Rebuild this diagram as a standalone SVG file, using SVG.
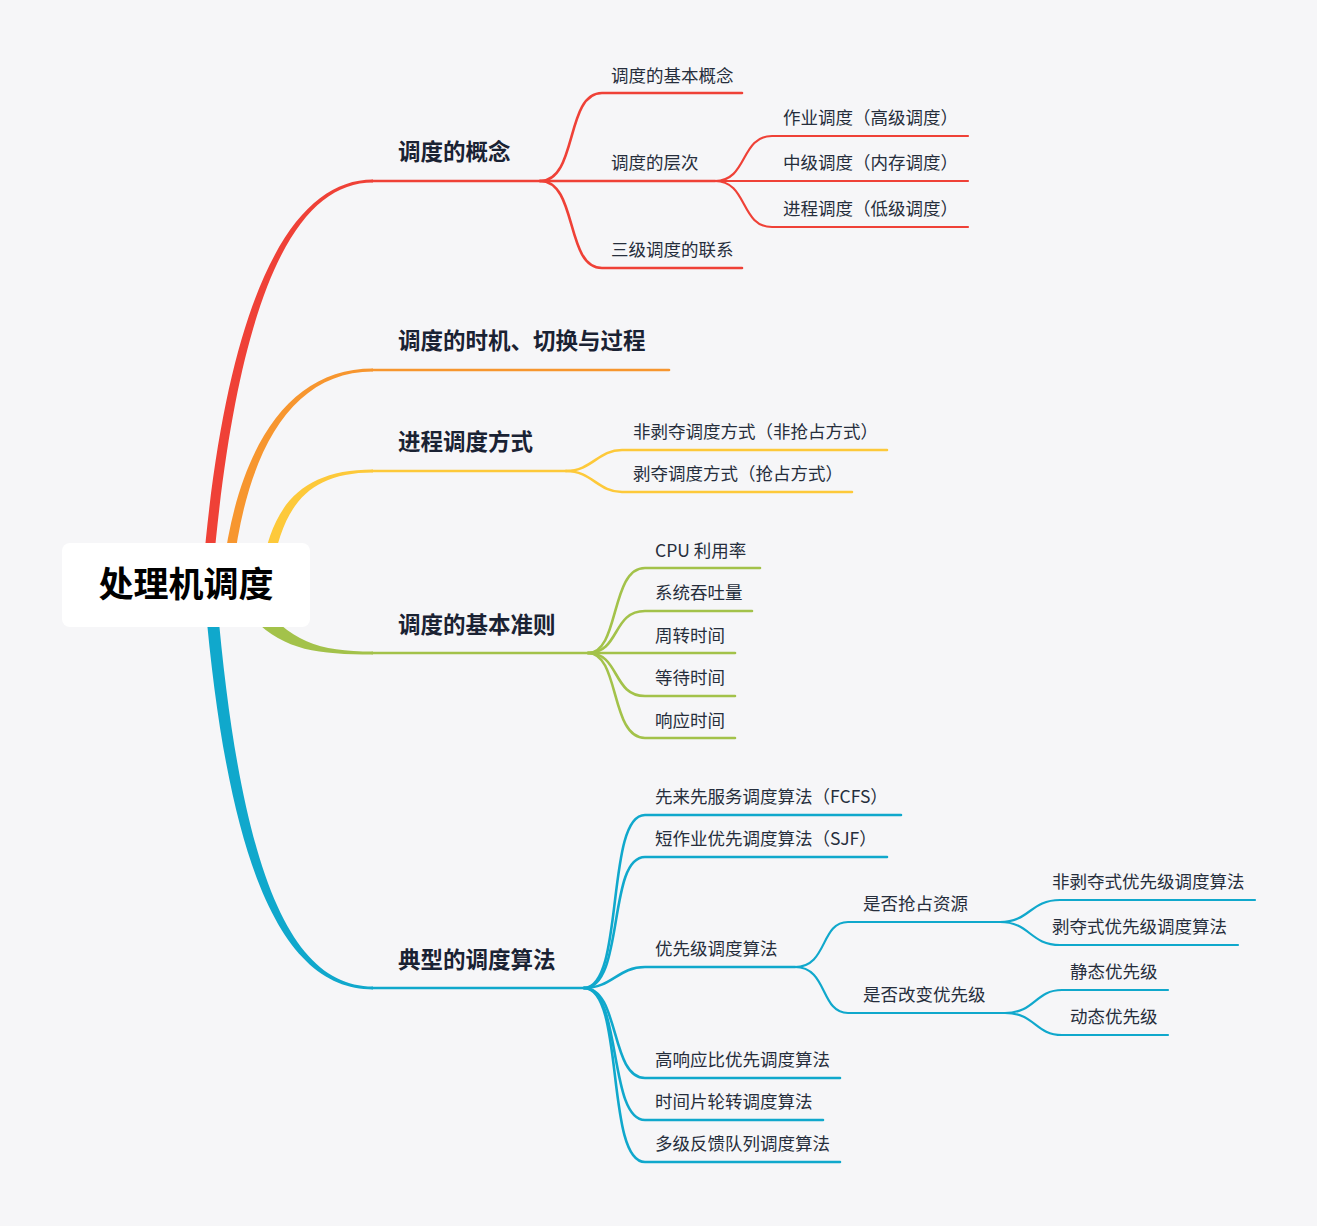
<svg xmlns="http://www.w3.org/2000/svg" width="1317" height="1226" viewBox="0 0 1317 1226">
<style>
.t{font-family:"Noto Sans CJK SC","Noto Sans",sans-serif;fill:#262e3c;font-size:17.5px}
.m{font-family:"Noto Sans CJK SC","Noto Sans",sans-serif;fill:#1a2233;font-size:22.5px;font-weight:bold}
.r{font-family:"Noto Sans CJK SC","Noto Sans",sans-serif;fill:#000;font-size:35px;font-weight:bold}
.c{fill:none;stroke-linecap:round}
.red{stroke:#ef4137}.org{stroke:#f7962f}.yel{stroke:#fdc93a}.grn{stroke:#a3c24a}.blu{stroke:#10a8cc}
.w2{stroke-width:2.6}.w3{stroke-width:2.2}
</style>
<rect width="1317" height="1226" fill="#f6f6f8"/>
<g id="connectors">
<path d="M203,570 C226,300 290,179.6 373,179.6 L373,182.4 C293,182.4 237,300 213,570 Z" fill="#ef4137"/>
<path d="M223,570 C238,450 287,368.6 373,368.6 L373,371.4 C291,371.4 247,452 233,570 Z" fill="#f7962f"/>
<path d="M262,570 C272,505 302,469.6 373,469.6 L373,472.4 C306,472.4 283,508 272,570 Z" fill="#fdc93a"/>
<path d="M256,598 C290,642 318,651.5 373,651.5 L373,654.5 C314,654.5 280,650 247,612 Z" fill="#a3c24a"/>
<path d="M205,600 C229,880 287,989.4 373,989.4 L373,986.6 C293,986.6 241,880 217,600 Z" fill="#10a8cc"/>
<path class="c red w2" d="M372,181 H540"/>
<path class="c red w2" d="M540,181 C578,181 565,93 602,93 H742"/>
<path class="c red w2" d="M540,181 H715"/>
<path class="c red w2" d="M540,181 C578,181 565,268 602,268 H742"/>
<path class="c red w3" d="M715,181 C748,181 740,136 772,136 H968"/>
<path class="c red w3" d="M715,181 H968"/>
<path class="c red w3" d="M715,181 C748,181 740,227 772,227 H968"/>
<path class="c org w2" d="M372,370 H669"/>
<path class="c yel w2" d="M372,471 H566"/>
<path class="c yel w2" d="M566,471 C592,471 598,450 622,450 H887"/>
<path class="c yel w2" d="M566,471 C592,471 598,492 622,492 H852"/>
<path class="c grn w2" d="M372,653 H588"/>
<path class="c grn w2" d="M588,653 C620,653 610,568 645,568 H760"/>
<path class="c grn w2" d="M588,653 C620,653 612,611 645,611 H752"/>
<path class="c grn w2" d="M588,653 H735"/>
<path class="c grn w2" d="M588,653 C620,653 612,696 645,696 H735"/>
<path class="c grn w2" d="M588,653 C620,653 610,738 645,738 H735"/>
<path class="c blu w2" d="M372,988 H584"/>
<path class="c blu w2" d="M584,988 C625,988 605,815 645,815 H901"/>
<path class="c blu w2" d="M584,988 C625,988 607,857 645,857 H887"/>
<path class="c blu w2" d="M584,988 C612,988 618,967 645,967 H795"/>
<path class="c blu w2" d="M584,988 C620,988 610,1078 645,1078 H840"/>
<path class="c blu w2" d="M584,988 C622,988 608,1120 645,1120 H823"/>
<path class="c blu w2" d="M584,988 C625,988 605,1162 645,1162 H840"/>
<path class="c blu w3" d="M795,967 C828,967 820,922 848,922 H1000"/>
<path class="c blu w3" d="M795,967 C828,967 820,1013 848,1013 H1005"/>
<path class="c blu w3" d="M1000,922 C1030,922 1030,900 1060,900 H1255"/>
<path class="c blu w3" d="M1000,922 C1030,922 1030,945 1060,945 H1238"/>
<path class="c blu w3" d="M1005,1013 C1035,1013 1035,990 1062,990 H1168"/>
<path class="c blu w3" d="M1005,1013 C1035,1013 1035,1035 1062,1035 H1168"/>
</g>
<g id="root">
<rect x="62" y="543" width="248" height="84" rx="8" fill="#ffffff"/>
<text class="r" x="186" y="597" text-anchor="middle">处理机调度</text>
</g>
<g id="n-gainian"><text class="m" x="398" y="160">调度的概念</text></g>
<g id="n-jibengainian"><text class="t" x="611" y="82">调度的基本概念</text></g>
<g id="n-cengci"><text class="t" x="611" y="169">调度的层次</text></g>
<g id="n-zuoye"><text class="t" x="783" y="124">作业调度（高级调度）</text></g>
<g id="n-zhongji"><text class="t" x="783" y="169">中级调度（内存调度）</text></g>
<g id="n-jincheng"><text class="t" x="783" y="215">进程调度（低级调度）</text></g>
<g id="n-lianxi"><text class="t" x="611" y="256">三级调度的联系</text></g>
<g id="n-shiji"><text class="m" x="398" y="349">调度的时机、切换与过程</text></g>
<g id="n-fangshi"><text class="m" x="398" y="450">进程调度方式</text></g>
<g id="n-feibiduo"><text class="t" x="633" y="438">非剥夺调度方式（非抢占方式）</text></g>
<g id="n-biduo"><text class="t" x="633" y="480">剥夺调度方式（抢占方式）</text></g>
<g id="n-zhunze"><text class="m" x="398" y="633">调度的基本准则</text></g>
<g id="n-cpu"><text class="t" x="655" y="557">CPU 利用率</text></g>
<g id="n-tuntu"><text class="t" x="655" y="599">系统吞吐量</text></g>
<g id="n-zhouzhuan"><text class="t" x="655" y="642">周转时间</text></g>
<g id="n-dengdai"><text class="t" x="655" y="684">等待时间</text></g>
<g id="n-xiangying"><text class="t" x="655" y="727">响应时间</text></g>
<g id="n-suanfa"><text class="m" x="398" y="968">典型的调度算法</text></g>
<g id="n-fcfs"><text class="t" x="655" y="803">先来先服务调度算法（FCFS）</text></g>
<g id="n-sjf"><text class="t" x="655" y="845">短作业优先调度算法（SJF）</text></g>
<g id="n-youxianji"><text class="t" x="655" y="955">优先级调度算法</text></g>
<g id="n-qiangzhan"><text class="t" x="863" y="910">是否抢占资源</text></g>
<g id="n-feibiduoshi"><text class="t" x="1052" y="888">非剥夺式优先级调度算法</text></g>
<g id="n-biduoshi"><text class="t" x="1052" y="933">剥夺式优先级调度算法</text></g>
<g id="n-gaibian"><text class="t" x="863" y="1001">是否改变优先级</text></g>
<g id="n-jingtai"><text class="t" x="1070" y="978">静态优先级</text></g>
<g id="n-dongtai"><text class="t" x="1070" y="1023">动态优先级</text></g>
<g id="n-hrrn"><text class="t" x="655" y="1066">高响应比优先调度算法</text></g>
<g id="n-rr"><text class="t" x="655" y="1108">时间片轮转调度算法</text></g>
<g id="n-mlfq"><text class="t" x="655" y="1150">多级反馈队列调度算法</text></g>
</svg>
